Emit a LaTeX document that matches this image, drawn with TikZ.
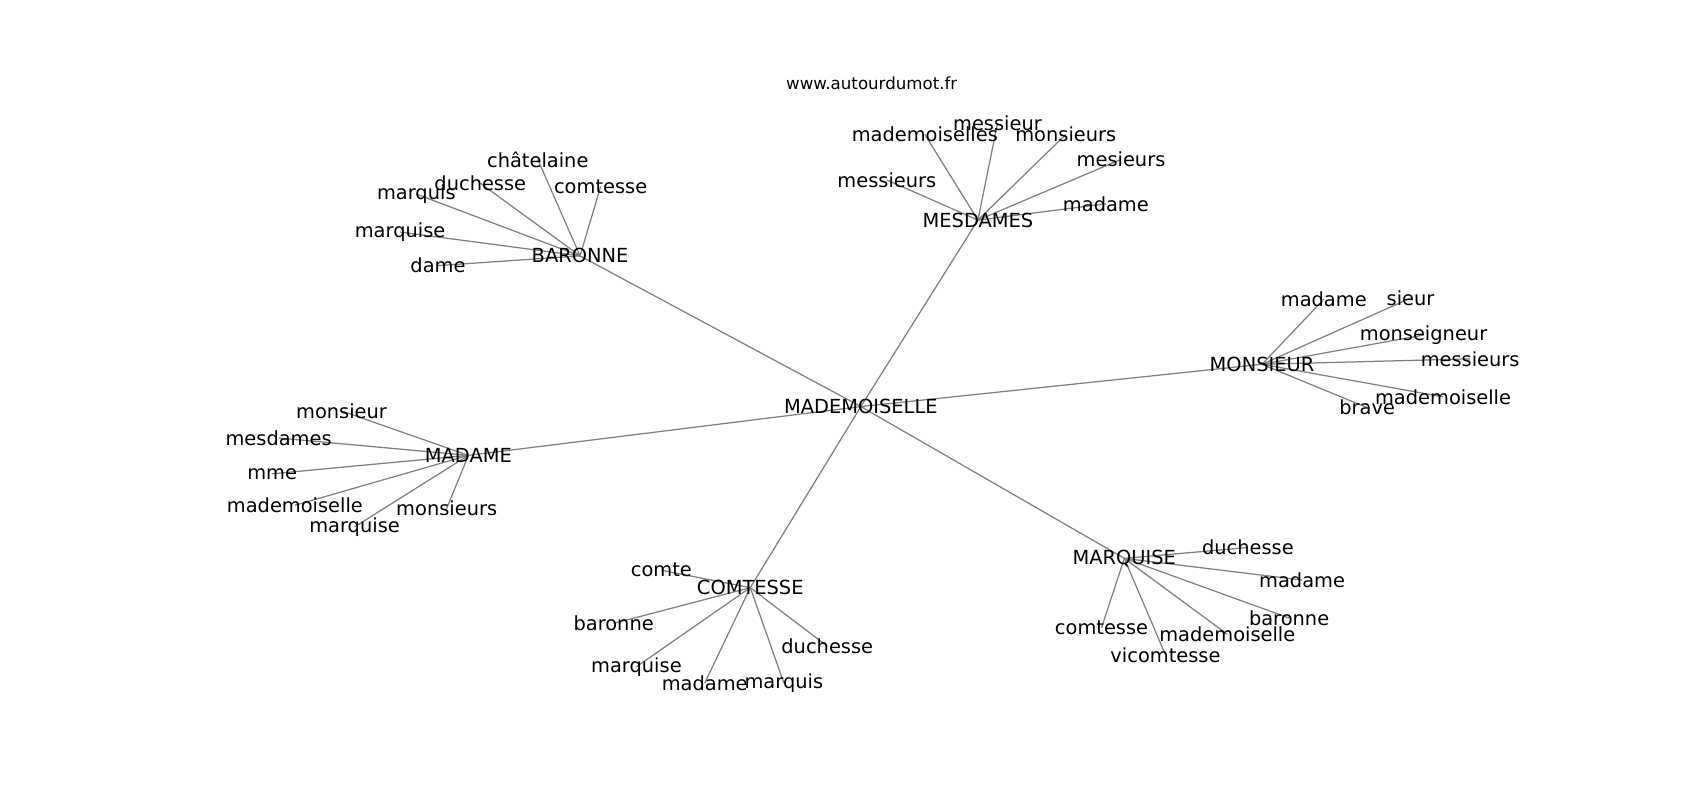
\documentclass[tikz,border=0pt]{standalone}
\usepackage{fontspec}
\setmainfont{DejaVu Sans}
\pgfdeclarelayer{edges}
\pgfsetlayers{edges,main}
\tikzset{
    word/.style = {inner sep=0pt, font=\fontsize{14}{16}\selectfont},
    hub/.style = {word},
    site/.style = {inner sep=0pt, font=\fontsize{12}{14}\selectfont},
    edgeg/.style = {draw=gray, line width=0.9pt}, % gray links
}
\begin{document}
\begin{tikzpicture}[x=0.7821pt, y=-0.7821pt]
  \useasboundingbox (0,0) rectangle (1568,738);
  \node[site] (url) at (804,77) {www.autourdumot.fr};
  \node[hub] (m) at (794,375) {MADEMOISELLE};
  % BARONNE
  \node[hub]  (ba)  at (535,236) {BARONNE};
  \node[word] (ba1) at (496,147) {châtelaine};
  \node[word] (ba2) at (443,169) {duchesse};
  \node[word] (ba3) at (554,172) {comtesse};
  \node[word] (ba4) at (384,179) {marquis};
  \node[word] (ba5) at (369,214) {marquise};
  \node[word] (ba6) at (404,245) {dame};
  % MESDAMES
  \node[hub]  (mes)  at (902,203) {MESDAMES};
  \node[word] (mes1) at (853,124) {mademoiselles};
  \node[word] (mes2) at (920,114) {messieur};
  \node[word] (mes3) at (983,124) {monsieurs};
  \node[word] (mes4) at (1034,147) {mesieurs};
  \node[word] (mes5) at (1020,188) {madame};
  \node[word] (mes6) at (818,166) {messieurs};
  % MONSIEUR
  \node[hub]  (mon)  at (1164,336) {MONSIEUR};
  \node[word] (mon1) at (1221,276) {madame};
  \node[word] (mon2) at (1301,275) {sieur};
  \node[word] (mon3) at (1313,309) {monseigneur};
  \node[word] (mon4) at (1356,331) {messieurs};
  \node[word] (mon5) at (1331,366) {mademoiselle};
  \node[word] (mon6) at (1261,376) {brave};
  % MADAME
  \node[hub]  (mad)  at (432,420) {MADAME};
  \node[word] (mad1) at (315,379) {monsieur};
  \node[word] (mad2) at (257,404) {mesdames};
  \node[word] (mad3) at (251,437) {mme};
  \node[word] (mad4) at (272,466) {mademoiselle};
  \node[word] (mad5) at (327,486) {marquise};
  \node[word] (mad6) at (412,469) {monsieurs};
  % COMTESSE
  \node[hub]  (com)  at (692,542) {COMTESSE};
  \node[word] (com1) at (610,526) {comte};
  \node[word] (com2) at (566,575) {baronne};
  \node[word] (com3) at (587,615) {marquise};
  \node[word] (com4) at (650,630) {madame};
  \node[word] (com5) at (723,630) {marquis};
  \node[word] (com6) at (763,596) {duchesse};
  % MARQUISE
  \node[hub]  (mrq)  at (1037,515) {MARQUISE};
  \node[word] (mrq1) at (1151,505) {duchesse};
  \node[word] (mrq2) at (1201,535) {madame};
  \node[word] (mrq3) at (1189,570) {baronne};
  \node[word] (mrq4) at (1132,585) {mademoiselle};
  \node[word] (mrq5) at (1016,579) {comtesse};
  \node[word] (mrq6) at (1075,604) {vicomtesse};
  \begin{pgfonlayer}{edges}
    \foreach \h in {ba,mes,mon,mad,com,mrq} {
      \draw[edgeg] (m.center) -- (\h.center);
      \foreach \i in {1,...,6}
        \draw[edgeg] (\h.center) -- (\h\i.center);
    }
  \end{pgfonlayer}
\end{tikzpicture}
\end{document}
